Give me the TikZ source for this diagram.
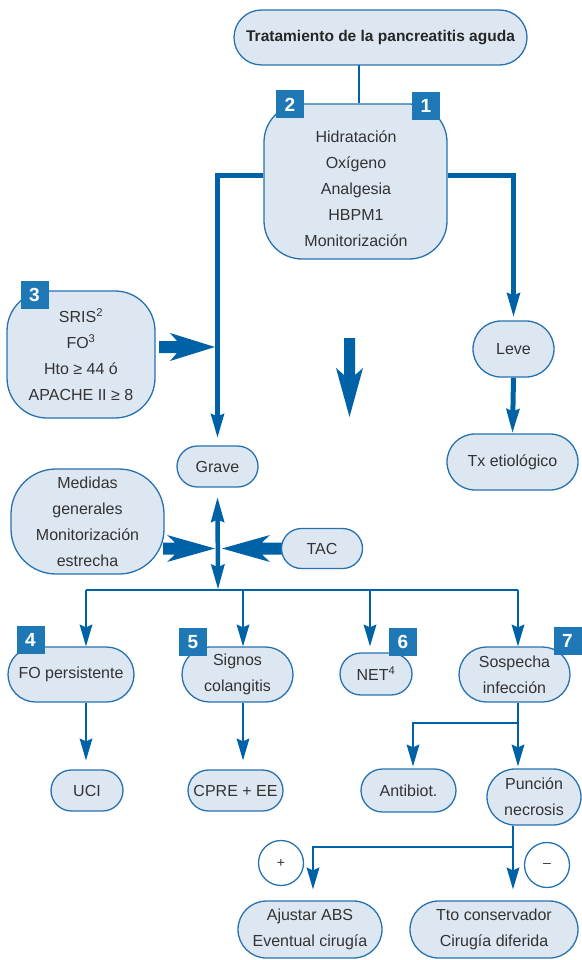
\documentclass[tikz,border=0pt]{standalone}
\usepackage{fontspec}
\setmainfont{Liberation Sans}
\usetikzlibrary{arrows.meta,backgrounds}
\definecolor{boxfill}{HTML}{DDE7F2}
\definecolor{boxline}{HTML}{2672B0}
\definecolor{arr}{HTML}{0062A6}
\definecolor{badgec}{HTML}{1F78B6}
\definecolor{txt}{HTML}{333333}
\begin{document}
\begin{tikzpicture}[x=1pt,y=-1pt,
  bx/.style={draw=boxline, fill=boxfill, line width=1.3pt, align=center, inner sep=0pt, text=txt, font=\fontsize{16}{26}\selectfont},
  badge/.style={fill=badgec, minimum width=28pt, minimum height=28pt, inner sep=0pt, text=white, font=\fontsize{19}{19}\selectfont\bfseries},
  thinline/.style={draw=arr, line width=1.8pt},
  thn/.style={draw=arr, line width=1.8pt, -{Stealth[length=22pt,width=13pt,inset=3pt,line width=0pt]}},
  thk/.style={draw=arr, line width=5pt, line join=miter, -{Stealth[length=24pt,width=14pt,inset=3pt,line width=0pt]}},
  fatarrow/.style={fill=arr},
  circ/.style={circle, draw=boxline, fill=white, line width=1.3pt, minimum size=45pt, inner sep=0pt, text=txt, font=\fontsize{14}{14}\selectfont}
]
\useasboundingbox (0,0) rectangle (581,960);

% boxes
\node[bx, minimum width=293pt, minimum height=55pt, rounded corners=27.5pt, font=\fontsize{15.5}{18}\selectfont\bfseries, text=black!85] (title) at (380.5,37.5) {Tratamiento de la pancreatitis aguda};
\node[bx, minimum width=183pt, minimum height=155pt, rounded corners=38pt] (main) at (355.5,181.5) {};
\node[align=center, inner sep=0pt, text=txt, font=\fontsize{16}{26}\selectfont] (maintext) at (356,189) {Hidratación\\Oxígeno\\Analgesia\\HBPM1\\Monitorización};
\node[bx, minimum width=148pt, minimum height=127pt, rounded corners=40pt] (sris) at (81,354.5) {SRIS\textsuperscript{2}\\FO\textsuperscript{3}\\Hto ≥ 44 ó\\APACHE II ≥ 8};
\node[bx, minimum width=81pt, minimum height=41pt, rounded corners=20.5pt] (grave) at (217.5,466.5) {Grave};
\node[bx, minimum width=81pt, minimum height=56pt, rounded corners=28pt] (leve) at (513.5,349) {Leve};
\node[bx, minimum width=131pt, minimum height=56pt, rounded corners=28pt] (tx) at (512.5,462) {Tx etiológico};
\node[bx, minimum width=153pt, minimum height=105pt, rounded corners=45pt] (medidas) at (87.5,521.5) {Medidas\\generales\\Monitorización\\estrecha};
\node[bx, minimum width=81pt, minimum height=40pt, rounded corners=20pt] (tac) at (322,548.5) {TAC};
\node[bx, minimum width=126pt, minimum height=55pt, rounded corners=27.5pt] (fo) at (71,674.5) {FO persistente};
\node[bx, minimum width=111pt, minimum height=55pt, rounded corners=27.5pt] (signos) at (237.5,674.5) {Signos\\colangitis};
\node[bx, minimum width=72pt, minimum height=42pt, rounded corners=21pt] (net) at (376,674) {NET\textsuperscript{4}};
\node[bx, minimum width=111pt, minimum height=55pt, rounded corners=27.5pt] (sospecha) at (514.5,674.5) {Sospecha\\infección};
\node[bx, minimum width=72pt, minimum height=41pt, rounded corners=20.5pt] (uci) at (87,790.5) {UCI};
\node[bx, minimum width=95pt, minimum height=41pt, rounded corners=20.5pt] (cpre) at (235.5,790.5) {CPRE + EE};
\node[bx, minimum width=95pt, minimum height=43pt, rounded corners=21.5pt] (antibiot) at (408.5,790.5) {Antibiot.};
\node[bx, minimum width=94pt, minimum height=56pt, rounded corners=28pt] (puncion) at (534,797) {Punción\\necrosis};
\node[bx, minimum width=144pt, minimum height=57pt, rounded corners=28.5pt] (ajustar) at (310,929.5) {Ajustar ABS\\Eventual cirugía};
\node[bx, minimum width=168pt, minimum height=57pt, rounded corners=28.5pt] (tto) at (494,929.5) {Tto conservador\\Cirugía diferida};
\node[circ] (plus) at (281,863) {+};
\node[circ] (minus) at (547,865) {–};

% badges
\node[badge] (b1) at (426,106) {1};
\node[badge] (b2) at (290,104.5) {2};
\node[badge] (b3) at (34.5,295) {3};
\node[badge] (b4) at (30.5,640) {4};
\node[badge] (b5) at (193,642) {5};
\node[badge] (b6) at (403,642) {6};
\node[badge] (b7) at (567.5,641) {7};

% coordinates
\coordinate (t1) at (359,65);
\coordinate (j1) at (218,347);
\coordinate (hub) at (218,548.5);
\coordinate (bus) at (218,590);
\coordinate (d1) at (86,590);
\coordinate (d2) at (243,590);
\coordinate (d3) at (370,590);
\coordinate (d4) at (518,590);
\coordinate (s1) at (518,723);
\coordinate (p1) at (513,847);
\coordinate (bdtip) at (349.5,417);

\begin{scope}[on background layer]
\draw[thinline] (t1) -- (t1 |- main.north);
\draw[thk] ([yshift=5.5pt]main.west) -| ([yshift=8pt]grave.north);
\draw[thk] ([yshift=5.5pt]main.east) -| ([yshift=4pt]leve.north);
\draw[thk] (leve.south) -- ([yshift=1pt]tx.north);
% block arrows
\fill[fatarrow] ([xshift=-3pt]j1) -- ++(-45,-14) -- ++(7,8) -- ++(-18,0) -- ++(0,12) -- ++(18,0) -- ++(-7,8) -- cycle;
\fill[fatarrow] (bdtip) -- ++(-13.5,-49) -- ++(8,7) -- ++(0,-37) -- ++(11,0) -- ++(0,37) -- ++(8,-7) -- cycle;
\fill[fatarrow] ([xshift=-3pt]hub) -- ++(-48,-13.5) -- ++(8,7.5) -- ++(-12,0) -- ++(0,12) -- ++(12,0) -- ++(-8,7.5) -- cycle;
\fill[fatarrow] ([xshift=4pt]hub) -- ++(48,-13.5) -- ++(-8,7.5) -- ++(22,0) -- ++(0,12) -- ++(-22,0) -- ++(8,7.5) -- cycle;
\draw[thk, line width=4.5pt, {Stealth[length=25pt,width=14pt,inset=3pt,line width=0pt]}-{Stealth[length=25pt,width=14pt,inset=3pt,line width=0pt]}] ([yshift=-10pt]grave.south) -- ([yshift=1pt]bus);
\draw[thinline] (d1) -- (d4);
\draw[thn] (d1) -- (d1 |- fo.north);
\draw[thn] (d2) -- (d2 |- signos.north);
\draw[thn, shorten >=6pt] (d3) -- (d3 |- net.north);
\draw[thn] (d4) -- (d4 |- sospecha.north);
\draw[thn, shorten >=9pt] (d1 |- fo.south) -- (d1 |- uci.north);
\draw[thn, shorten >=9pt] (d2 |- signos.south) -- (d2 |- cpre.north);
\draw[thinline] (s1 |- sospecha.south) -- (s1);
\draw[thn, shorten >=2pt] (s1) -| ([xshift=4.5pt]antibiot.north);
\draw[thn, shorten >=2pt] (s1) -- (s1 |- puncion.north);
\draw[thinline] (p1 |- puncion.south) -- (p1);
\draw[thn, shorten >=11pt] (p1) -| ([xshift=3pt]ajustar.north);
\draw[thn, shorten >=11pt] (p1) -- (p1 |- tto.north);
\end{scope}
\end{tikzpicture}
\end{document}
